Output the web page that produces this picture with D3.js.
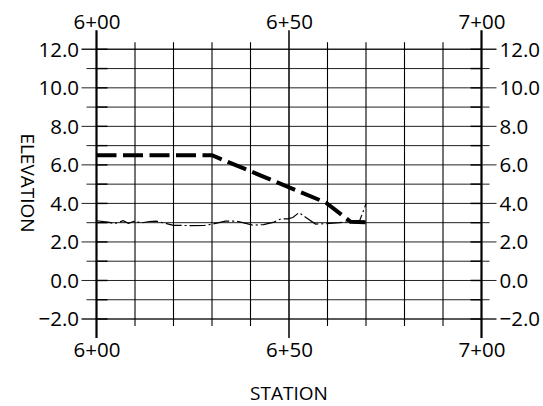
<!DOCTYPE html>
<html>
<head>
<meta charset="utf-8">
<script src="https://cdn.jsdelivr.net/npm/d3@7"></script>
<style>
  html, body { margin: 0; padding: 0; background: #fff; }
  svg { display: block; }
  text { font-family: "Open Sans", "Noto Sans", sans-serif; fill: #000; }
</style>
</head>
<body>
<svg id="chart" width="543" height="406"></svg>
<script>
// ---- data ----
const stationTicks = [600, 650, 700];
const stationGrid = [600, 610, 620, 630, 640, 650, 660, 670, 680, 690, 700];
const elevTicks = [-2, 0, 2, 4, 6, 8, 10, 12];
const elevGrid = [-2, -1, 0, 1, 2, 3, 4, 5, 6, 7, 8, 9, 10, 11, 12];

const proposedStation = [600, 630, 659.6, 666, 670.5];
const proposedElev    = [6.5, 6.5, 4.04, 3.05, 3.02];

const groundStation = [600, 603, 604.7, 606.9, 608.3, 610.1, 611.4, 613.7, 615.5, 618.2,
  620, 624.5, 628.1, 629.9, 633.5, 636.2, 638, 640.7, 643.4, 646.1, 647.9, 649.7, 651,
  652.6, 654.2, 656.9, 659.6, 663.2, 665.9, 668.3, 669.2, 670];
const groundElev = [3.1, 3.03, 2.95, 3.1, 2.97, 3.1, 2.98, 3.06, 3.08, 2.95,
  2.86, 2.85, 2.86, 2.92, 3.08, 3.08, 3.0, 2.87, 2.9, 3.03, 3.2, 3.2, 3.27,
  3.52, 3.3, 2.93, 2.95, 3.0, 3.05, 3.08, 3.55, 3.97];

// ---- drawing ----
const svg = d3.select("#chart");
const x = d3.scaleLinear().domain([600, 700]).range([96.5, 481.5]);
const y = d3.scaleLinear().domain([-2, 12]).range([319, 49.3]);
const fs = 20.5;
const stationFmt = d => Math.floor(d / 100) + "+" + String(d % 100).padStart(2, "0");
const elevFmt = d3.format(".1f");

const grid = svg.append("g");

// horizontal grid lines
grid.selectAll("line.h").data(elevGrid).join("line")
  .attr("x1", d => d % 2 === 0 ? x(600) - 15 : x(600) - 10)
  .attr("x2", d => d % 2 === 0 ? x(700) + 15 : x(700) + 8)
  .attr("y1", d => y(d)).attr("y2", d => y(d))
  .attr("stroke", "#222")
  .attr("stroke-width", d => (d === 12 || d === -2) ? 1.6 : 1);

// small darker ticks inside spines
grid.selectAll("line.tl").data(elevGrid).join("line")
  .attr("x1", x(600)).attr("x2", x(600) + 11)
  .attr("y1", d => y(d)).attr("y2", d => y(d))
  .attr("stroke", "#000").attr("stroke-width", 1.4);
grid.selectAll("line.tr").data(elevGrid).join("line")
  .attr("x1", x(700) - 11).attr("x2", x(700))
  .attr("y1", d => y(d)).attr("y2", d => y(d))
  .attr("stroke", "#000").attr("stroke-width", 1.4);

// vertical grid lines
grid.selectAll("line.v").data(stationGrid).join("line")
  .attr("x1", d => x(d)).attr("x2", d => x(d))
  .attr("y1", d => stationTicks.includes(d) ? y(12) - 19 : y(12) - 7)
  .attr("y2", d => stationTicks.includes(d) ? y(-2) + 19 : y(-2) + 7)
  .attr("stroke", "#000")
  .attr("stroke-width", d => (d === 600 || d === 700) ? 2.2 : (d === 650 ? 1.5 : 1.1));

// axes (labels)
function styleAxis(g) {
  g.select(".domain").remove();
  g.selectAll("line").remove();
  g.selectAll("text").attr("font-size", fs).attr("font-family", "'Open Sans', sans-serif").attr("fill", "#000");
}
svg.append("g").attr("transform", `translate(0,${y(12)})`)
  .call(d3.axisTop(x).tickValues(stationTicks).tickFormat(stationFmt).tickSize(0).tickPadding(20.8))
  .call(styleAxis);
svg.append("g").attr("transform", `translate(0,${y(-2)})`)
  .call(d3.axisBottom(x).tickValues(stationTicks).tickFormat(stationFmt).tickSize(0).tickPadding(23.5))
  .call(styleAxis);
svg.append("g").attr("transform", `translate(${x(600)},0)`)
  .call(d3.axisLeft(y).tickValues(elevTicks).tickFormat(elevFmt).tickSize(0).tickPadding(17.5))
  .call(styleAxis)
  .selectAll("text").attr("dy", "0.34em");
svg.append("g").attr("transform", `translate(${x(700)},0)`)
  .call(d3.axisRight(y).tickValues(elevTicks).tickFormat(elevFmt).tickSize(0).tickPadding(18))
  .call(styleAxis)
  .selectAll("text").attr("dy", "0.34em");

// axis titles
svg.append("text").attr("x", (x(600) + x(700)) / 2).attr("y", 400)
  .attr("text-anchor", "middle").attr("font-size", 19).text("STATION");
svg.append("text").attr("transform", "translate(21,183) rotate(90)")
  .attr("text-anchor", "middle").attr("font-size", 19).text("ELEVATION");

// lines
const line = d3.line().x(d => x(d[0])).y(d => y(d[1]));
const ground = groundStation.map((s, i) => [s, groundElev[i]]);
const proposed = proposedStation.map((s, i) => [s, proposedElev[i]]);

svg.append("path").datum(ground).attr("d", line)
  .attr("fill", "none").attr("stroke", "#000").attr("stroke-width", 1.2)
  .attr("stroke-dasharray", "16,3,2,3");
svg.append("path").datum(proposed).attr("d", line)
  .attr("fill", "none").attr("stroke", "#000").attr("stroke-width", 4)
  .attr("stroke-dasharray", "20,6.5");
</script>
</body>
</html>
